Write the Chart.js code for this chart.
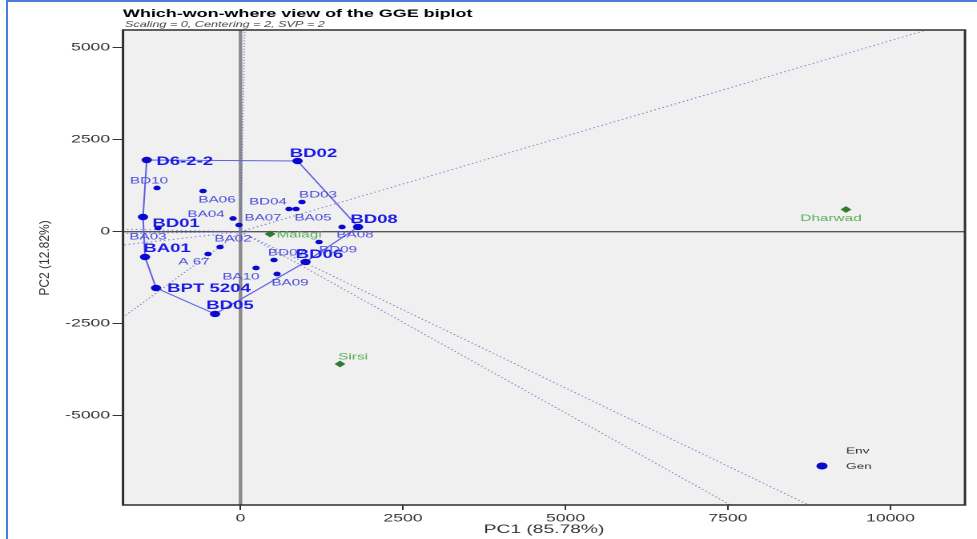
<!DOCTYPE html>
<html>
<head>
<meta charset="utf-8">
<title>Which-won-where view of the GGE biplot</title>
<script src="https://cdn.jsdelivr.net/npm/chart.js@4.4.1/dist/chart.umd.min.js"></script>
<style>
  html, body { margin: 0; padding: 0; background: #fff; width: 977px; height: 539px; overflow: hidden; }
  #wrap { position: absolute; left: 0; top: 0; width: 610px; height: 539px;
          transform: scaleX(1.6016); transform-origin: 0 0; }
  #frame { position: absolute; left: 6px; top: 0; width: 971px; height: 539px; box-sizing: border-box;
           border-left: 2px solid #4a7fd8; border-top: 2px solid #4a7fd8; pointer-events: none; }
</style>
</head>
<body>
<div id="wrap"><canvas id="biplot"></canvas></div>
<div id="frame"></div>
<script>
// ---- data -------------------------------------------------------------
const genotypes = ['D6-2-2', 'BD02', 'BD10', 'BA06', 'BD04', 'BA05', 'BD03', 'BA04', 'BA07', 'BD01',
                   'BA03', 'BA01', 'A 67', 'BA02', 'BPT 5204', 'BD05', 'BA10', 'BD07', 'BA09', 'BD06',
                   'BD09', 'BA08', 'BD08'];
const genPC1 = [-1443, 877, -1285, -577, 746, 854, 946, -115, -23, -1500,
                -1269, -1469, -500, -315, -1300, -392, 238, 515, 562, 1000,
                1208, 1562, 1808];
const genPC2 = [1948, 1921, 1188, 1106, 617, 617, 807, 359, 182, 399,
                101, -688, -606, -416, -1530, -2236, -986, -769, -1149, -823,
                -280, 128, 128];

const environments = ['Dharwad', 'Sirsi', 'Malagi'];
const envPC1 = [9315, 1531, 454];
const envPC2 = [603, -3595, -63];

// vertices of the which-won-where polygon, in drawing order
const hullOrder = ['D6-2-2', 'BD02', 'BD08', 'BD06', 'BD05', 'BPT 5204', 'BA01', 'BD01'];

const xTicks = [0, 2500, 5000, 7500, 10000];
const yTicks = [-5000, -2500, 0, 2500, 5000];

// ---- presentation -----------------------------------------------------
const S = 977 / 610;               // horizontal stretch of the drawing
const FONT = "'Liberation Sans', Arial, Helvetica, sans-serif";

// label offsets from each marker, in screen pixels [dx, dy]
const labelOffsets = {
  'D6-2-2': [38, 2], 'BD02': [16, -7], 'BD10': [-8, -7], 'BA06': [14, 9], 'BD04': [-21, -7],
  'BA05': [17, 9], 'BD03': [16, -7], 'BA04': [-27, -4], 'BA07': [24, -7], 'BD01': [33, 7],
  'BA03': [-10, 9], 'BA01': [22, -8], 'A 67': [-14, 8], 'BA02': [13, -8], 'BPT 5204': [53, 1],
  'BD05': [15, -8], 'BA10': [-15, 9], 'BD07': [13, -7], 'BA09': [13, 9], 'BD06': [14, -7],
  'BD09': [19, 8], 'BA08': [13, 8], 'BD08': [16, -7],
  'Dharwad': [-15, 9], 'Sirsi': [13, -7], 'Malagi': [29, 1]
};

const genPoints = genotypes.map((g, i) => ({ x: genPC1[i], y: genPC2[i] }));
const envPoints = environments.map((e, i) => ({ x: envPC1[i], y: envPC2[i] }));
const hullPoints = hullOrder.map(n => genPoints[genotypes.indexOf(n)]);

// rays from the origin, perpendicular to each side of the polygon
const rays = hullPoints.map((p, i) => {
  const q = hullPoints[(i + 1) % hullPoints.length];
  const dx = q.x - p.x, dy = q.y - p.y;
  const t = -(p.x * dx + p.y * dy) / (dx * dx + dy * dy);
  const fx = p.x + t * dx, fy = p.y + t * dy;
  const k = 60000 / Math.hypot(fx, fy);
  return [{ x: 0, y: 0 }, { x: fx * k, y: fy * k }];
});

const rayDatasets = rays.map(r => ({
  data: r, showLine: true, pointRadius: 0, borderWidth: 1,
  borderColor: 'rgba(105,105,200,0.8)', borderDash: [1, 1.8], order: 3
}));

const decor = {
  id: 'decor',
  beforeDraw(chart) {
    const { ctx, chartArea: a } = chart;
    ctx.save();
    ctx.fillStyle = '#f0f0f0';
    ctx.fillRect(a.left, a.top, a.right - a.left, a.bottom - a.top);
    ctx.restore();
  },
  beforeDatasetsDraw(chart) {
    const { ctx, chartArea: a, scales: { x, y } } = chart;
    ctx.save();
    const x0 = x.getPixelForValue(0);
    ctx.strokeStyle = '#8a8a8a'; ctx.lineWidth = 2.2;
    ctx.beginPath(); ctx.moveTo(x0, a.top); ctx.lineTo(x0, a.bottom); ctx.stroke();
    const y0 = y.getPixelForValue(0);
    ctx.strokeStyle = '#555'; ctx.lineWidth = 1.4;
    ctx.beginPath(); ctx.moveTo(a.left, y0); ctx.lineTo(a.right, y0); ctx.stroke();
    ctx.restore();
  },
  afterDatasetsDraw(chart) {
    const { ctx, chartArea: a, scales: { x, y } } = chart;
    ctx.save();
    ctx.textAlign = 'center';
    ctx.textBaseline = 'middle';
    // genotype labels
    genotypes.forEach((g, i) => {
      const off = labelOffsets[g];
      const bold = hullOrder.includes(g);
      ctx.font = bold ? `bold 11.6px ${FONT}` : `9.5px ${FONT}`;
      ctx.fillStyle = bold ? '#1a1ae6' : '#4b4bdc';
      ctx.fillText(g, x.getPixelForValue(genPC1[i]) + off[0] / S, y.getPixelForValue(genPC2[i]) + off[1]);
    });
    // environment labels
    ctx.font = `9.6px ${FONT}`;
    ctx.fillStyle = '#5aae5a';
    environments.forEach((e, i) => {
      const off = labelOffsets[e];
      ctx.fillText(e, x.getPixelForValue(envPC1[i]) + off[0] / S, y.getPixelForValue(envPC2[i]) + off[1]);
    });
    // panel border
    ctx.strokeStyle = '#2e2e2e'; ctx.lineWidth = 1.5;
    ctx.strokeRect(a.left, a.top, a.right - a.left, a.bottom - a.top);
    // legend
    ctx.textAlign = 'left';
    ctx.font = `8.5px ${FONT}`;
    ctx.fillStyle = '#333';
    ctx.fillText('Env', 846 / S, 451);
    ctx.fillText('Gen', 846 / S, 466.5);
    ctx.fillStyle = '#0808d0';
    ctx.beginPath(); ctx.arc(822 / S, 466, 3.5, 0, Math.PI * 2); ctx.fill();
    // titles
    ctx.textBaseline = 'alphabetic';
    ctx.fillStyle = '#000';
    ctx.font = `bold 11.2px ${FONT}`;
    ctx.fillText('Which-won-where view of the GGE biplot', a.left, 17);
    ctx.fillStyle = '#444';
    ctx.font = `italic 7.9px ${FONT}`;
    ctx.fillText('Scaling = 0, Centering = 2, SVP = 2', a.left + 1.2, 27);
    // axis titles
    ctx.textAlign = 'center';
    ctx.textBaseline = 'middle';
    ctx.fillStyle = '#333';
    ctx.font = `12px ${FONT}`;
    ctx.fillText('PC1 (85.78%)', (a.left + a.right) / 2, 529.5);
    ctx.translate(45 / S, 258);
    ctx.rotate(-Math.PI / 2);
    ctx.scale(1, 0.72);
    ctx.fillText('PC2 (12.82%)', 0, 0);
    ctx.restore();
  }
};

new Chart(document.getElementById('biplot'), {
  type: 'scatter',
  data: {
    datasets: [
      { label: 'Gen', data: genPoints, order: 0, borderWidth: 0,
        backgroundColor: '#0808d0',
        pointRadius: genotypes.map(g => hullOrder.includes(g) ? 3.2 : 2.3) },
      { label: 'Env', data: envPoints, order: 0, borderWidth: 0, pointStyle: 'rectRot',
        backgroundColor: '#2d7d2d', pointRadius: 3.4 },
      { label: 'polygon', data: hullPoints.concat([hullPoints[0]]), showLine: true, pointRadius: 0,
        borderColor: '#5f5fe6', borderWidth: 1, order: 1 },
      ...rayDatasets
    ]
  },
  options: {
    responsive: true,
    maintainAspectRatio: false,
    animation: false,
    devicePixelRatio: 2,
    layout: { padding: { top: 30, right: 610 - 965 / S, bottom: 0, left: 0 } },
    plugins: { legend: { display: false }, title: { display: false }, tooltip: { enabled: false } },
    events: [],
    scales: {
      x: {
        type: 'linear', min: -1808, max: 11146,
        afterBuildTicks: s => { s.ticks = xTicks.map(v => ({ value: v })); },
        afterFit: s => { s.height = 34; },
        border: { display: false },
        grid: { display: true, drawOnChartArea: false, drawTicks: true, tickLength: 5, tickColor: '#333', tickWidth: 1 },
        ticks: { autoSkip: false, maxRotation: 0, padding: 2, color: '#333',
                 font: { family: FONT, size: 11 }, callback: v => String(v) }
      },
      y: {
        type: 'linear', min: -7427, max: 5481,
        afterBuildTicks: s => { s.ticks = yTicks.map(v => ({ value: v })); },
        afterFit: s => { s.width = 123 / S; },
        border: { display: false },
        grid: { display: true, drawOnChartArea: false, drawTicks: true, tickLength: 6.5, tickColor: '#333', tickWidth: 1 },
        ticks: { autoSkip: false, padding: 1.5, color: '#333',
                 font: { family: FONT, size: 11 }, callback: v => String(v) }
      }
    }
  },
  plugins: [decor]
});
</script>
</body>
</html>
